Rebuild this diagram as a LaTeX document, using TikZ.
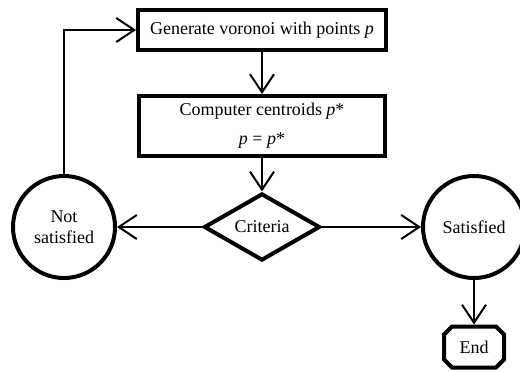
\documentclass[tikz,border=0pt]{standalone}
\usepackage{fontspec}
\setmainfont{Liberation Serif}
\usetikzlibrary{shapes.geometric,shapes.misc,arrows.meta}

\begin{document}
\begin{tikzpicture}[x=1pt,y=1pt,font=\fontsize{18}{21}\selectfont,
  box/.style={draw,line width=4pt,inner sep=0pt,align=center},
  link/.style={line width=2pt,-{Straight Barb[length=18pt,width=24pt]}}]
\useasboundingbox (0,0) rectangle (520,-372);
\node[box,minimum width=248pt,minimum height=40pt] (gen) at (262,-30) {Generate voronoi with points \textit{p}};
\node[box,minimum width=246pt,minimum height=60pt] (cent) at (262,-126) {Computer centroids \textit{p}*\\[8pt]\textit{p} = \textit{p}*};
\node[box,diamond,minimum width=116pt,minimum height=64pt] (crit) at (262,-227) {Criteria};
\node[box,circle,minimum size=102pt] (notsat) at (64,-227) {Not\\satisfied};
\node[box,circle,minimum size=102pt] (sat) at (474,-227) {Satisfied};
\node[box,chamfered rectangle,chamfered rectangle xsep=4pt,chamfered rectangle ysep=4pt,minimum width=60pt,minimum height=41pt] (end) at (474,-347) {End};
\draw[link] (gen) -- (cent);
\draw[link] (cent) -- (crit);
\draw[link] (crit) -- (notsat);
\draw[link] (crit) -- (sat);
\draw[link] (sat) -- (end);
\draw[link] (notsat.north) |- (gen.west);
\end{tikzpicture}
\end{document}
